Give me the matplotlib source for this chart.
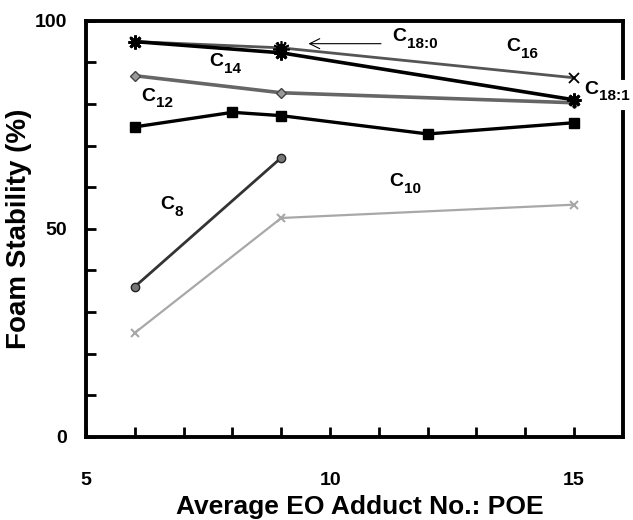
import matplotlib
matplotlib.use('Agg')
import matplotlib.pyplot as plt
from matplotlib.ticker import FixedLocator

plt.rcParams['font.family'] = ['Liberation Sans', 'DejaVu Sans']
plt.rcParams['font.weight'] = 'bold'

# data
c8_x = [6, 9]
c8_y = [36.1, 67.1]
c10_x = [6, 9, 15]
c10_y = [25.0, 52.6, 55.8]
c12_x = [6, 9, 15]
c12_y = [86.8, 82.7, 80.3]
c12sq_x = [6, 8, 9, 12, 15]
c12sq_y = [74.5, 78.0, 77.2, 72.8, 75.5]
c14_x = [6, 9, 15]
c14_y = [95.0, 92.3, 81.0]
c16_x = [6, 9, 15]
c16_y = [95.0, 93.5, 86.3]
c180_x = [9]
c180_y = [93.3]

fig = plt.figure(figsize=(6.33, 5.2), dpi=100)
ax = fig.add_axes([0.136, 0.16, 0.848, 0.80])

ax.plot(c10_x, c10_y, color='#a8a8a8', lw=1.6, marker='x', ms=6, mew=1.5)
ax.plot(c8_x, c8_y, color='#333333', lw=2.0, marker='o', ms=6,
        mfc='#777777', mec='#222222')
ax.plot(c12sq_x, c12sq_y, color='black', lw=2.4, marker='s', ms=7)
ax.plot(c12_x, c12_y, color='#666666', lw=2.6, marker='D', ms=5,
        mfc='#999999', mec='#444444')
ax.plot(c16_x, c16_y, color='#555555', lw=2.0, marker='x', ms=7, mew=1.3,
        mec='black')
ax.plot(c14_x, c14_y, color='black', lw=2.6, marker=(8, 2, 0), ms=10, mew=2)
ax.plot(c180_x, c180_y, ls='none', color='black', marker=(12, 2, 0), ms=12,
        mew=1.2)
ax.plot(c180_x, c180_y, ls='none', color='black', marker='o', ms=7)

ax.set_xlim(5, 16)
ax.set_ylim(0, 100)

ax.xaxis.set_major_locator(FixedLocator([5, 10, 15]))
ax.xaxis.set_minor_locator(FixedLocator(list(range(6, 15))))
ax.yaxis.set_major_locator(FixedLocator([0, 50, 100]))
ax.yaxis.set_minor_locator(FixedLocator([10, 20, 30, 40, 60, 70, 80, 90]))
ax.tick_params(axis='both', which='both', direction='in', length=7, width=2)
ax.tick_params(axis='x', which='major', pad=25, labelsize=14)
ax.tick_params(axis='y', which='major', pad=14, labelsize=14)
ax.tick_params(top=False, right=False)

for s in ax.spines.values():
    s.set_linewidth(2.8)

# right spine is broken behind the C18:1 label
ax.spines['right'].set_visible(False)
for y0, y1 in [(0, 0.781), (0.863, 1)]:
    ax.plot([1, 1], [y0, y1], color='black', lw=2.8, transform=ax.transAxes,
            clip_on=False, solid_capstyle='projecting')

ax.set_ylabel('Foam Stability (%)', fontsize=20, fontweight='bold', va='center')
ax.yaxis.set_label_coords(-0.125, 0.5)
ax.set_xlabel('Average EO Adduct No.: POE', fontsize=19, fontweight='bold')
ax.xaxis.set_label_coords(0.51, -0.14)


def chain_label(x, y, sub, **kw):
    t = ax.text(x, y, 'C', fontsize=14, fontweight='bold', ha='left',
                va='center', **kw)
    ax.annotate(sub, xy=(1, 0), xycoords=t, xytext=(0.5, -4),
                textcoords='offset points', fontsize=11, fontweight='bold',
                ha='left', va='bottom', annotation_clip=False, **kw)


chain_label(11.28, 96.2, '18:0')
chain_label(13.62, 93.8, '16')
chain_label(7.53, 90.1, '14')
chain_label(6.13, 81.9, '12')
chain_label(6.52, 55.8, '8')
chain_label(11.22, 61.3, '10')
chain_label(15.2, 83.5, '18:1', clip_on=False, zorder=5)

ax.annotate('', xy=(9.5, 94.5), xytext=(11.1, 94.5),
            arrowprops=dict(arrowstyle='->', lw=0.8, color='black',
                            mutation_scale=18))

fig.savefig('out.png', dpi=100)
